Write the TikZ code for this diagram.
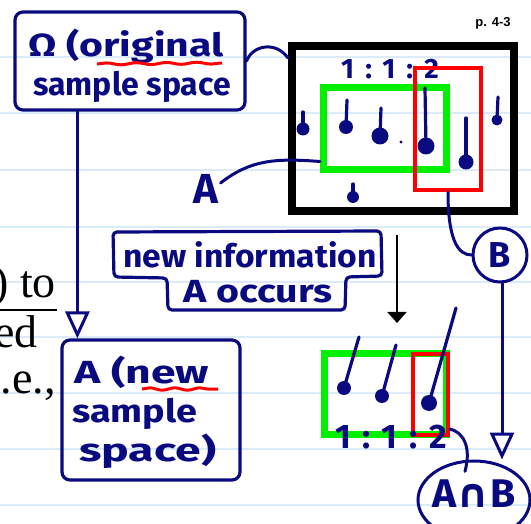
\documentclass[tikz,border=0pt]{standalone}
\usepackage{fontspec}
\setmainfont{Liberation Serif}
\newfontfamily\hand{Fira Sans}
\newfontfamily\dv{DejaVu Sans}
\newfontfamily\lsans{Liberation Sans}
\usetikzlibrary{arrows.meta,decorations.pathmorphing,calc,shapes.geometric}
\definecolor{navy}{HTML}{0A0A80}
\definecolor{gbright}{HTML}{00F000}
\definecolor{rbright}{HTML}{FF0000}
\definecolor{ruled}{HTML}{DCEBFA}
\newcommand\pinX[5]{\draw[pinline] (#1,#2) -- (#3,#4); \fill[navy] (#3,#4) circle (#5);}
\tikzset{
  hbox/.style={draw=navy, line width=3.2pt, rounded corners=8pt, inner sep=0pt},
  htext/.style={text=navy, font=\hand\bfseries\fontsize{32}{36}\selectfont, inner sep=0pt},
  navyline/.style={draw=navy, line width=3pt, line cap=round},
  pinline/.style={draw=navy, line width=3.2pt, line cap=round},
  serif/.style={font=\fontsize{46}{50}\selectfont, inner sep=0pt, anchor=base east},
  openhead/.style={-{Triangle[open, length=27pt, width=24pt, line width=3pt]}},
}
\begin{document}
\begin{tikzpicture}[x=1pt,y=-1pt]
\useasboundingbox (0,0) rectangle (531,524);
\fill[white] (0,0) rectangle (531,524);
\foreach \yy in {57,113,170,227,282,337,393,449,505}
  \draw[ruled, line width=1.2pt] (0,\yy) -- (531,\yy);

% serif text at left edge
\node[serif] (t1) at (56,298) {) to};
\draw[black, line width=2pt] (0,310) -- (57,310);
\node[serif] (t2) at (38,348) {ed};
\node[serif] (t3) at (56,393) {.e.,};

% page number
\node[font=\lsans\bfseries\fontsize{13}{15}\selectfont, inner sep=0pt] (pg) at (493,23) {p. 4-3};

% Omega box
\node[hbox, minimum width=230pt, minimum height=98pt] (omega) at (130,61) {};
\node[htext, anchor=base west, xscale=1.28] (om1) at (28,57) {Ω (original};
\node[htext, anchor=base west] (om2) at (33,96) {sample space};
\draw[rbright, line width=3pt, decorate, decoration={snake, amplitude=1pt, segment length=30pt}] (97,64) -- (222,63);

% A box
\node[hbox, minimum width=178pt, minimum height=140pt] (abox) at (151,410) {};
\node[htext, anchor=base west, xscale=1.39] (ab1) at (74,383) {A (new};
\node[htext, anchor=base west, xscale=1.18] (ab2) at (72,422) {sample};
\node[htext, anchor=base west, xscale=1.45] (ab3) at (79,461) {space)};
\draw[rbright, line width=3pt, decorate, decoration={snake, amplitude=1.2pt, segment length=25pt}] (142,389) -- (218,389);

\draw[navyline, openhead] ([xshift=64pt]omega.south west) -- ([xshift=17pt]abox.north west);

% sample space box
\node[draw=black, line width=8pt, minimum width=222pt, minimum height=165pt, inner sep=0pt] (sbox) at (403,128.5) {};
\node[text=navy, font=\hand\bfseries\fontsize{28}{30}\selectfont\addfontfeature{LetterSpace=40}, inner sep=0pt] (r1) at (390,69) {1:1:2};
\node[draw=gbright, line width=7pt, minimum width=123pt, minimum height=82pt, inner sep=0pt] (gbox) at (385,128.5) {};
\node[draw=rbright, line width=4pt, minimum width=66pt, minimum height=122pt, inner sep=0pt] (rbox) at (448,129) {};
\pinX{303}{112}{303}{129}{6.5}
\pinX{347}{100}{346}{127}{7}
\pinX{381}{108}{380}{136}{8.5}
\fill[navy] (401,142) circle (1.6);
\pinX{425}{88}{426}{146}{8.5}
\pinX{466}{118}{466}{162}{7.5}
\pinX{498}{97}{497}{120}{5.5}
\pinX{353}{184}{353}{197}{6}

\draw[navyline] (omega.east) .. controls (252,46) and (275,40) .. ([yshift=-16pt]sbox.north west);

% A label
\node[text=navy, font=\hand\bfseries\fontsize{42}{44}\selectfont, inner sep=0pt] (alabel) at (206,189) {A};
\draw[navyline] ([xshift=2pt,yshift=6pt]alabel.east) .. controls (250,160) and (275,158) .. ([yshift=11.5pt]gbox.south west);

% B
\node[draw=navy, line width=3pt, circle, minimum size=54pt, inner sep=0pt, text=navy, font=\hand\bfseries\fontsize{36}{40}\selectfont] (bnode) at (500,255) {B};
\draw[navyline] (rbox.south) .. controls (448,240) and (458,255) .. (bnode.west);

% new information box
\draw[navy, line width=3.2pt, rounded corners=4pt] (113,232) -- (381,231) -- (382,276) -- (346,277) -- (345,310) -- (168,310) -- (167,278) -- (114,277) -- cycle;
\node[htext, xscale=1.05] (info1) at (250,255) {new information};
\node[htext, xscale=1.23] (info2) at (258,292) {A occurs};

% black arrow
\coordinate (atop) at (397,235);
\coordinate (abot) at (397,323);
\draw[black, line width=2pt, -{Triangle[width=19pt, length=11pt]}] (atop) -- (abot);

% reduced sample space
\node[draw=gbright, line width=7pt, minimum width=122pt, minimum height=81pt, inner sep=0pt] (gbox2) at (385.5,394) {};
\node[draw=rbright, line width=4pt, minimum width=35pt, minimum height=81pt, inner sep=0pt] (rbox2) at (430.5,394.5) {};
\pinX{359}{337}{344}{388}{7}
\pinX{396}{345}{382}{396}{7}
\pinX{456}{308}{429}{403}{8}
\node[text=navy, font=\hand\bfseries\fontsize{34}{36}\selectfont\addfontfeature{LetterSpace=35}, inner sep=0pt] (r2) at (391,437) {1:1:2};

% A cap B
\node[draw=navy, line width=3pt, ellipse, minimum width=112pt, minimum height=78pt, inner sep=0pt] (anb) at (474,500) {};
\node[text=navy, font=\hand\bfseries\fontsize{40}{44}\selectfont, xscale=1.02, inner sep=0pt] (anbtext) at (474,494) {A{\dv\bfseries ∩}B};
\draw[navyline, openhead] (bnode.south) ++(2,0) coordinate (bs) (bs) -- (bs |- anb.north);
\draw[navyline] ([yshift=8pt]rbox2.south east) .. controls (462,432) and (472,445) .. (anb.north west -| 465,0);
\end{tikzpicture}
\end{document}
